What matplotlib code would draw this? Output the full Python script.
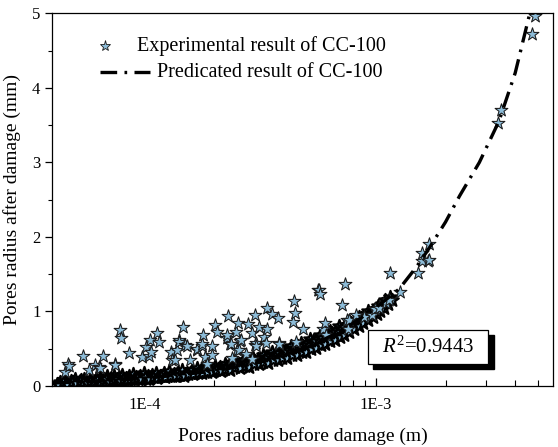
import numpy as np
import matplotlib
matplotlib.use("Agg")
from matplotlib import pyplot as plt
from matplotlib.patches import Rectangle
from matplotlib.lines import Line2D
from matplotlib.ticker import LogLocator, FixedLocator, MultipleLocator

plt.rcParams['font.family'] = ['Liberation Serif', 'DejaVu Serif']
plt.rcParams['mathtext.fontset'] = 'custom'
plt.rcParams['mathtext.rm'] = 'Liberation Serif'
plt.rcParams['mathtext.it'] = 'Liberation Serif:italic'

# radius before damage in mm (converted to m for the axis), radius after damage in mm
band_x = [0.042,0.043,0.044,0.045,0.046,0.047,0.048,0.049,0.050,0.051,0.052,0.053,0.054,0.055,
          0.056,0.057,0.058,0.059,0.060,0.061,0.062,0.063,0.064,0.065,0.066,0.067,0.068,0.069,
          0.070,0.071,0.072,0.073,0.074,0.075,0.077,0.078,0.079,0.080,0.082,0.083,0.085,0.086,
          0.088,0.089,0.091,0.092,0.094,0.096,0.098,0.100,0.102,0.104,0.106,0.108,0.110,0.112,
          0.115,0.117,0.120,0.122,0.125,0.128,0.131,0.134,0.137,0.140,0.143,0.146,0.150,0.153,
          0.157,0.160,0.164,0.168,0.172,0.176,0.180,0.184,0.188,0.193,0.197,0.202,0.207,0.212,
          0.217,0.222,0.227,0.232,0.238,0.244,0.250,0.256,0.262,0.268,0.275,0.281,0.288,0.295,
          0.302,0.309,0.316,0.324,0.332,0.340,0.348,0.356,0.365,0.373,0.382,0.392,0.401,0.411,
          0.421,0.431,0.441,0.452,0.463,0.474,0.485,0.497,0.509,0.521,0.534,0.547,0.560,0.574,
          0.588,0.602,0.617,0.632,0.647,0.663,0.679,0.695,0.712,0.729,0.747,0.765,0.784,0.803,
          0.822,0.842,0.862,0.883,0.905,0.927,0.949,0.972,0.996,1.020,1.060,1.100,1.150]
band_y = [0.03,0.06,0.04,0.08,0.05,0.03,0.07,0.05,0.09,0.04,0.06,0.08,0.05,0.10,
          0.06,0.04,0.08,0.11,0.06,0.07,0.09,0.05,0.12,0.07,0.06,0.10,0.08,0.13,
          0.07,0.09,0.11,0.07,0.14,0.08,0.10,0.12,0.08,0.15,0.09,0.11,0.08,0.13,
          0.10,0.16,0.09,0.12,0.10,0.14,0.11,0.17,0.10,0.13,0.11,0.15,0.12,0.18,
          0.12,0.14,0.13,0.17,0.13,0.20,0.14,0.16,0.15,0.19,0.15,0.22,0.16,0.18,
          0.17,0.21,0.18,0.24,0.19,0.21,0.20,0.25,0.21,0.23,0.22,0.27,0.23,0.25,
          0.24,0.29,0.25,0.27,0.27,0.32,0.28,0.30,0.30,0.35,0.31,0.33,0.33,0.38,
          0.34,0.36,0.36,0.41,0.38,0.39,0.40,0.45,0.41,0.43,0.44,0.49,0.45,0.47,
          0.48,0.53,0.50,0.51,0.53,0.58,0.54,0.56,0.58,0.63,0.60,0.61,0.63,0.68,
          0.65,0.67,0.69,0.74,0.71,0.73,0.75,0.80,0.77,0.79,0.82,0.87,0.84,0.86,
          0.88,0.93,0.91,0.93,0.95,1.00,0.98,1.01,1.03,1.07,1.10,1.15,1.20]

# lower edge of the dense band, sitting on the fitted curve
edge_x = [0.0425,0.0445,0.0465,0.0485,0.0505,0.0525,0.0545,0.0565,0.0585,0.0605,0.0625,0.0645,
          0.0665,0.0685,0.0705,0.0725,0.0745,0.0765,0.0785,0.081,0.084,0.087,0.090,0.093,
          0.097,0.101,0.105,0.109,0.113,0.118,0.123,0.129,0.135,0.141,0.148,0.155,0.162,
          0.170,0.178,0.186,0.195,0.204,0.214,0.224,0.235,0.247,0.259,0.271,0.284,0.298,
          0.312,0.327,0.343,0.360,0.377,0.395,0.415,0.435,0.456,0.478,0.501,0.525,0.550,
          0.577,0.605,0.634,0.665,0.697,0.731,0.766,0.803,0.842,0.883,0.926,0.970,1.01,
          1.04,1.08,1.13,1.18]
edge_y = [0.02,0.05,0.03,0.06,0.04,0.07,0.05,0.04,0.07,0.05,0.08,0.06,0.05,0.09,0.06,0.08,
          0.07,0.10,0.07,0.09,0.08,0.10,0.09,0.11,0.09,0.12,0.10,0.12,0.11,0.13,0.12,0.14,
          0.13,0.15,0.14,0.16,0.16,0.18,0.17,0.19,0.19,0.21,0.20,0.23,0.22,0.25,0.24,0.27,
          0.26,0.30,0.29,0.32,0.31,0.35,0.35,0.38,0.38,0.42,0.42,0.45,0.46,0.50,0.51,0.55,
          0.56,0.60,0.62,0.66,0.69,0.73,0.76,0.80,0.84,0.88,0.93,0.97,1.00,1.05,1.10,1.16]

spread_x = [0.0452,0.0467,0.0473,0.0542,0.0574,0.0614,0.0634,0.0645,0.0662,0.0749,0.0749,0.0787,
            0.0795,0.0861,0.0977,0.1016,0.1045,0.1062,0.1072,0.1135,0.1153,0.1297,0.1316,0.1362,
            0.1384,0.1418,0.1418,0.1466,0.1504,0.1528,0.1581,0.1690,0.1690,0.1766,0.1766,0.1788,
            0.1825,0.1867,0.1950,0.1963,0.2015,0.2062,0.2279,0.2279,0.2301,0.2333,0.2356,0.2394,
            0.2477,0.2517,0.2541,0.2559,0.2576,0.2604,0.2737,0.2808,0.2904,0.2924,0.3000,0.3000,
            0.3025,0.3041,0.3126,0.3282,0.3342,0.3396,0.3396,0.3548,0.3786,0.3812,0.3812,0.4397,
            0.4426,0.4474,0.4508,0.4845,0.5625,0.5686,0.5728,0.5916,0.6039,0.6115,0.7129,0.7362,
            0.7534,0.7607,0.7660,0.8187,0.8899,0.9609,0.9932,1.033,1.105,1.142,1.150,1.270,
            1.528,1.582,1.590,1.672,1.689,1.701,3.383,3.474,4.731,4.877]
spread_y = [0.19,0.30,0.27,0.40,0.22,0.28,0.25,0.24,0.40,0.30,0.28,0.75,
            0.65,0.44,0.39,0.52,0.40,0.62,0.46,0.71,0.59,0.46,0.35,0.35,
            0.48,0.62,0.59,0.79,0.55,0.54,0.35,0.48,0.50,0.53,0.57,0.68,
            0.39,0.30,0.54,0.42,0.82,0.73,0.65,0.68,0.94,0.56,0.57,0.38,
            0.73,0.48,0.84,0.48,0.61,0.62,0.43,0.83,0.71,0.36,0.95,0.55,
            0.58,0.53,0.79,0.66,0.58,0.76,1.05,0.97,0.91,0.58,0.56,0.86,
            1.14,0.98,0.59,0.77,1.29,1.29,1.24,0.76,0.85,0.68,1.09,1.37,
            0.88,0.76,0.88,0.95,0.93,0.95,1.03,1.05,1.12,1.15,1.52,1.26,
            1.52,1.79,1.68,1.68,1.90,1.69,3.53,3.71,4.73,4.97]

# predicted curve
fit_x = [0.040,0.060,0.100,0.200,0.300,0.500,0.700,0.850,1.000,1.260,1.500,1.700,
         2.000,2.300,2.800,3.400,4.000,4.600]
fit_y = [0.04,0.06,0.10,0.20,0.30,0.51,0.73,0.90,1.05,1.30,1.60,1.85,
         2.20,2.55,3.00,3.55,4.20,4.97]
r2 = 0.9443

star_face = '#8dbcd8'
star_edge = '#1a1a1a'

fig = plt.figure(figsize=(5.58, 4.47), dpi=100)
ax = fig.add_axes([0.0937, 0.1365, 0.8965, 0.8335])

# crowded band near the curve first (overlapping edges go dark), scattered points over it
ax.scatter(np.array(band_x + edge_x) * 1e-3, band_y + edge_y, marker='*', s=90,
           facecolor=star_face, edgecolor='k', linewidth=1.6, zorder=2)
ax.scatter(np.array(spread_x) * 1e-3, spread_y, marker='*', s=95, facecolor=star_face,
           edgecolor=star_edge, linewidth=0.75, zorder=2.5)
ax.plot(np.array(fit_x) * 1e-3, fit_y, color='k', linewidth=2.4, dashes=(5, 2.2, 0.8, 2.2),
        zorder=3)

ax.set_xscale('log')
ax.set_xlim(4e-5, 5.8e-3)
ax.set_ylim(0, 5)

ax.xaxis.set_major_locator(FixedLocator([1e-4, 1e-3]))
ax.set_xticklabels(['1E-4', '1E-3'])
ax.xaxis.set_minor_locator(LogLocator(base=10, subs=np.arange(2, 10)))
ax.xaxis.set_minor_formatter(plt.NullFormatter())
ax.yaxis.set_major_locator(MultipleLocator(1))
ax.yaxis.set_minor_locator(MultipleLocator(0.5))

ax.tick_params(axis='x', which='major', direction='in', length=6, width=0.9, labelsize=12, pad=8)
ax.tick_params(axis='x', which='minor', direction='in', length=4, width=0.8)
ax.tick_params(axis='y', which='major', direction='out', length=5, width=0.9, labelsize=12)
ax.tick_params(axis='y', which='minor', direction='out', length=3, width=0.8)
for sp in ax.spines.values():
    sp.set_linewidth(0.9)

ax.set_xlabel('Pores radius before damage (m)', fontsize=14, labelpad=10)
ax.set_ylabel('Pores radius after damage (mm)', fontsize=14, labelpad=8)

# legend entries placed by hand (texts are not left aligned)
ax.add_line(Line2D([0.105], [0.912], transform=ax.transAxes, marker='*', markersize=8,
                   markerfacecolor=star_face, markeredgecolor=star_edge, markeredgewidth=0.6,
                   linestyle='none'))
ax.text(0.169, 0.912, 'Experimental result of CC-100', transform=ax.transAxes,
        fontsize=14.5, va='center', ha='left')
ax.add_line(Line2D([0.095, 0.195], [0.8425, 0.8425], transform=ax.transAxes, color='k',
                   linewidth=2.4, dashes=(5, 2.2, 0.8, 2.2)))
ax.text(0.209, 0.8425, 'Predicated result of CC-100', transform=ax.transAxes,
        fontsize=14.5, va='center', ha='left')

# R^2 box with drop shadow
ax.add_patch(Rectangle((0.642, 0.045), 0.24, 0.091, transform=ax.transAxes,
                       facecolor='k', edgecolor='k', zorder=4))
ax.add_patch(Rectangle((0.631, 0.059), 0.24, 0.091, transform=ax.transAxes,
                       facecolor='white', edgecolor='k', linewidth=0.9, zorder=5))
ax.text(0.751, 0.104, r'$R^2$=%.4f' % r2, transform=ax.transAxes, ha='center', va='center',
        fontsize=15, zorder=6)

fig.savefig('out.png', dpi=100)
